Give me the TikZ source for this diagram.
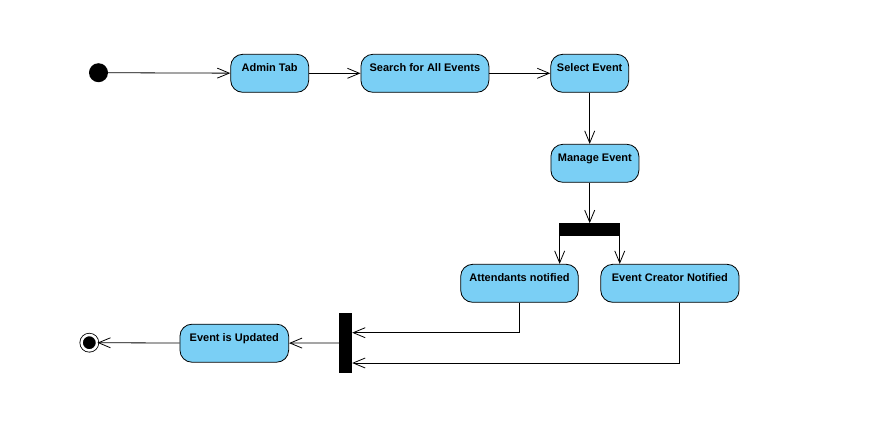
\documentclass[tikz,border=0pt]{standalone}
\usepackage{fontspec}
\setmainfont{Liberation Sans}
\usetikzlibrary{arrows.meta,positioning,calc}
\definecolor{actfill}{RGB}{122,207,245}
\begin{document}
\begin{tikzpicture}[x=1pt,y=-1pt,
  action/.style={draw=black,fill=actfill,rounded corners=12pt,line width=0.8pt,
    inner xsep=0pt,inner ysep=0pt,minimum height=38pt,text height=17pt,text depth=21pt,
    font=\fontsize{11}{13}\selectfont\bfseries},
  bar/.style={fill=black,inner sep=0pt},
  flow/.style={line width=0.8pt,-{Straight Barb[length=12pt,width=10pt]}}]
\fill[white] (0,0) rectangle (894,442);
\node[circle,fill=black,inner sep=0pt,minimum size=19pt] (init) at (98.5,72.7) {};
\node[action,minimum width=78pt] (admin) at (269.7,73.3) {Admin Tab};
\node[action,minimum width=128pt] (search) at (424.9,73.3) {Search for All Events};
\node[action,minimum width=78pt] (select) at (589.7,73.3) {Select Event};
\node[action,minimum width=88pt] (manage) at (594.9,163.3) {Manage Event};
\node[bar,minimum width=60.7pt,minimum height=12.7pt] (fork) at (589.7,229.7) {};
\node[action,minimum width=117.6pt] (att) at (519.5,283.3) {Attendants notified};
\node[action,minimum width=138.3pt] (creator) at (669.9,283.3) {Event Creator Notified};
\node[bar,minimum width=13pt,minimum height=60.6pt] (join) at (345.5,343) {};
\node[action,minimum width=108.7pt] (updated) at (234.3,343.2) {Event is Updated};
\node[circle,draw=black,fill=black,line width=0.8pt,double=white,double distance=2.5pt,
  inner sep=0pt,minimum size=15.5pt] (final) at (89.3,342.7) {};
\draw[flow] (init) -- (admin);
\draw[flow] (admin) -- (search);
\draw[flow] (search) -- (select);
\draw[flow] (select.south) -- (select.south |- manage.north);
\draw[flow] (manage.south -| fork.north) -- (fork.north);
\draw[flow] ([xshift=0.5pt]fork.south west) -- ([xshift=0.5pt]fork.south west |- att.north);
\draw[flow] ([xshift=-0.5pt]fork.south east) -- ([xshift=-0.5pt]fork.south east |- creator.north);
\draw[flow] (att.south) |- ($(join.east)+(0,-10.3)$);
\draw[flow] ([xshift=9.4pt]creator.south) |- ($(join.east)+(0,20)$);
\draw[flow] (join) -- (updated);
\draw[flow] (updated) -- (final);
\end{tikzpicture}
\end{document}
